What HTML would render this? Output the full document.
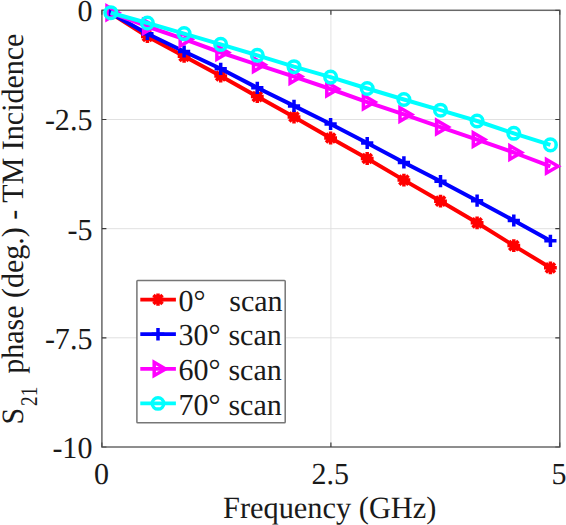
<!DOCTYPE html>
<html><head><meta charset="utf-8"><title>S21 phase - TM Incidence</title>
<style>
html,body{margin:0;padding:0;background:#fff;}
body{width:566px;height:525px;overflow:hidden;font-family:"Liberation Serif",serif;}
svg{display:block;}
text{font-family:"Liberation Serif",serif;fill:#1a1a1a;text-rendering:geometricPrecision;}
</style></head>
<body>
<svg width="566" height="525" viewBox="0 0 566 525">
<rect width="566" height="525" fill="#ffffff"/>
<line x1="101.9" y1="119.5" x2="559.8" y2="119.5" stroke="#dedede" stroke-width="0.9"/>
<line x1="101.9" y1="228.7" x2="559.8" y2="228.7" stroke="#dedede" stroke-width="0.9"/>
<line x1="101.9" y1="337.8" x2="559.8" y2="337.8" stroke="#dedede" stroke-width="0.9"/>
<line x1="330.9" y1="10.3" x2="330.9" y2="447.0" stroke="#dedede" stroke-width="0.9"/>
<rect x="101.9" y="10.3" width="457.9" height="436.7" fill="none" stroke="#686868" stroke-width="1.5"/>
<path d="M101.9 119.5h4.5M559.8 119.5h-4.5" stroke="#3a3a3a" stroke-width="1.2"/>
<path d="M101.9 228.7h4.5M559.8 228.7h-4.5" stroke="#3a3a3a" stroke-width="1.2"/>
<path d="M101.9 337.8h4.5M559.8 337.8h-4.5" stroke="#3a3a3a" stroke-width="1.2"/>
<path d="M330.9 10.3v4.5M330.9 447.0v-4.5" stroke="#3a3a3a" stroke-width="1.2"/>
<path d="M101.9 10.3v4.5M101.9 447.0v-4.5M559.8 10.3v4.5M559.8 447.0v-4.5M101.9 10.3h4.5M559.8 10.3h-4.5M101.9 447.0h4.5M559.8 447.0h-4.5" stroke="#3a3a3a" stroke-width="1.2" opacity="0.75"/>
<polyline points="110.8,13.3 147.4,36.5 184.1,56.3 220.7,76.0 257.3,96.6 294.0,117.0 330.6,138.0 367.2,158.5 403.9,180.1 440.5,201.2 477.1,222.8 513.8,245.6 550.4,267.8" fill="none" stroke="#ff0000" stroke-width="4.0" stroke-linejoin="round"/>
<path d="M104.4 13.3H117.2M110.8 6.9V19.7M106.2 8.7L115.4 17.9M106.2 17.9L115.4 8.7" stroke="#ff0000" stroke-width="3.5" fill="none"/>
<path d="M141.0 36.5H153.8M147.4 30.1V42.9M142.8 31.9L152.0 41.1M142.8 41.1L152.0 31.9" stroke="#ff0000" stroke-width="3.5" fill="none"/>
<path d="M177.7 56.3H190.5M184.1 49.9V62.7M179.5 51.7L188.7 60.9M179.5 60.9L188.7 51.7" stroke="#ff0000" stroke-width="3.5" fill="none"/>
<path d="M214.3 76.0H227.1M220.7 69.6V82.4M216.1 71.4L225.3 80.6M216.1 80.6L225.3 71.4" stroke="#ff0000" stroke-width="3.5" fill="none"/>
<path d="M250.9 96.6H263.7M257.3 90.2V103.0M252.7 92.0L261.9 101.2M252.7 101.2L261.9 92.0" stroke="#ff0000" stroke-width="3.5" fill="none"/>
<path d="M287.6 117.0H300.4M294.0 110.6V123.4M289.4 112.4L298.6 121.6M289.4 121.6L298.6 112.4" stroke="#ff0000" stroke-width="3.5" fill="none"/>
<path d="M324.2 138.0H337.0M330.6 131.6V144.4M326.0 133.4L335.2 142.6M326.0 142.6L335.2 133.4" stroke="#ff0000" stroke-width="3.5" fill="none"/>
<path d="M360.8 158.5H373.6M367.2 152.1V164.9M362.6 153.9L371.8 163.1M362.6 163.1L371.8 153.9" stroke="#ff0000" stroke-width="3.5" fill="none"/>
<path d="M397.5 180.1H410.3M403.9 173.7V186.5M399.3 175.5L408.5 184.7M399.3 184.7L408.5 175.5" stroke="#ff0000" stroke-width="3.5" fill="none"/>
<path d="M434.1 201.2H446.9M440.5 194.8V207.6M435.9 196.6L445.1 205.8M435.9 205.8L445.1 196.6" stroke="#ff0000" stroke-width="3.5" fill="none"/>
<path d="M470.7 222.8H483.5M477.1 216.4V229.2M472.5 218.2L481.7 227.4M472.5 227.4L481.7 218.2" stroke="#ff0000" stroke-width="3.5" fill="none"/>
<path d="M507.4 245.6H520.2M513.8 239.2V252.0M509.2 241.0L518.4 250.2M509.2 250.2L518.4 241.0" stroke="#ff0000" stroke-width="3.5" fill="none"/>
<path d="M544.0 267.8H556.8M550.4 261.4V274.2M545.8 263.2L555.0 272.4M545.8 272.4L555.0 263.2" stroke="#ff0000" stroke-width="3.5" fill="none"/>
<polyline points="110.8,13.2 147.4,33.8 184.1,51.5 220.7,68.8 257.3,87.8 294.0,105.9 330.6,124.0 367.2,143.0 403.9,162.4 440.5,181.2 477.1,200.7 513.8,220.5 550.4,240.8" fill="none" stroke="#0000ff" stroke-width="4.0" stroke-linejoin="round"/>
<path d="M104.7 13.2H116.9M110.8 7.1V19.3" stroke="#0000ff" stroke-width="3.5" fill="none"/>
<path d="M141.3 33.8H153.5M147.4 27.7V39.9" stroke="#0000ff" stroke-width="3.5" fill="none"/>
<path d="M178.0 51.5H190.2M184.1 45.4V57.6" stroke="#0000ff" stroke-width="3.5" fill="none"/>
<path d="M214.6 68.8H226.8M220.7 62.7V74.9" stroke="#0000ff" stroke-width="3.5" fill="none"/>
<path d="M251.2 87.8H263.4M257.3 81.7V93.9" stroke="#0000ff" stroke-width="3.5" fill="none"/>
<path d="M287.9 105.9H300.1M294.0 99.8V112.0" stroke="#0000ff" stroke-width="3.5" fill="none"/>
<path d="M324.5 124.0H336.7M330.6 117.9V130.1" stroke="#0000ff" stroke-width="3.5" fill="none"/>
<path d="M361.1 143.0H373.3M367.2 136.9V149.1" stroke="#0000ff" stroke-width="3.5" fill="none"/>
<path d="M397.8 162.4H410.0M403.9 156.3V168.5" stroke="#0000ff" stroke-width="3.5" fill="none"/>
<path d="M434.4 181.2H446.6M440.5 175.1V187.3" stroke="#0000ff" stroke-width="3.5" fill="none"/>
<path d="M471.0 200.7H483.2M477.1 194.6V206.8" stroke="#0000ff" stroke-width="3.5" fill="none"/>
<path d="M507.7 220.5H519.9M513.8 214.4V226.6" stroke="#0000ff" stroke-width="3.5" fill="none"/>
<path d="M544.3 240.8H556.5M550.4 234.7V246.9" stroke="#0000ff" stroke-width="3.5" fill="none"/>
<polyline points="110.8,12.7 147.4,26.5 184.1,39.2 220.7,52.5 257.3,64.7 294.0,76.6 330.6,89.0 367.2,102.1 403.9,114.4 440.5,127.1 477.1,139.6 513.8,152.5 550.4,166.3" fill="none" stroke="#ff00ff" stroke-width="4.0" stroke-linejoin="round"/>
<path d="M118.5 12.7L107.0 6.0L107.0 19.4Z" stroke="#ff00ff" stroke-width="3.5" fill="none" stroke-linejoin="miter"/>
<path d="M155.1 26.5L143.6 19.8L143.6 33.2Z" stroke="#ff00ff" stroke-width="3.5" fill="none" stroke-linejoin="miter"/>
<path d="M191.8 39.2L180.2 32.5L180.2 45.9Z" stroke="#ff00ff" stroke-width="3.5" fill="none" stroke-linejoin="miter"/>
<path d="M228.4 52.5L216.9 45.8L216.9 59.2Z" stroke="#ff00ff" stroke-width="3.5" fill="none" stroke-linejoin="miter"/>
<path d="M265.0 64.7L253.5 58.0L253.5 71.4Z" stroke="#ff00ff" stroke-width="3.5" fill="none" stroke-linejoin="miter"/>
<path d="M301.7 76.6L290.1 69.9L290.1 83.3Z" stroke="#ff00ff" stroke-width="3.5" fill="none" stroke-linejoin="miter"/>
<path d="M338.3 89.0L326.8 82.3L326.8 95.7Z" stroke="#ff00ff" stroke-width="3.5" fill="none" stroke-linejoin="miter"/>
<path d="M374.9 102.1L363.4 95.4L363.4 108.8Z" stroke="#ff00ff" stroke-width="3.5" fill="none" stroke-linejoin="miter"/>
<path d="M411.6 114.4L400.0 107.7L400.0 121.1Z" stroke="#ff00ff" stroke-width="3.5" fill="none" stroke-linejoin="miter"/>
<path d="M448.2 127.1L436.6 120.4L436.6 133.8Z" stroke="#ff00ff" stroke-width="3.5" fill="none" stroke-linejoin="miter"/>
<path d="M484.8 139.6L473.3 132.9L473.3 146.3Z" stroke="#ff00ff" stroke-width="3.5" fill="none" stroke-linejoin="miter"/>
<path d="M521.5 152.5L509.9 145.8L509.9 159.2Z" stroke="#ff00ff" stroke-width="3.5" fill="none" stroke-linejoin="miter"/>
<path d="M558.1 166.3L546.5 159.6L546.5 173.0Z" stroke="#ff00ff" stroke-width="3.5" fill="none" stroke-linejoin="miter"/>
<polyline points="110.8,12.7 147.4,23.0 184.1,33.6 220.7,44.4 257.3,55.3 294.0,66.7 330.6,77.1 367.2,88.5 403.9,99.5 440.5,110.2 477.1,121.0 513.8,133.3 550.4,144.9" fill="none" stroke="#00ffff" stroke-width="4.0" stroke-linejoin="round"/>
<circle cx="110.8" cy="12.7" r="5.8" stroke="#00ffff" stroke-width="3.5" fill="none"/>
<circle cx="147.4" cy="23.0" r="5.8" stroke="#00ffff" stroke-width="3.5" fill="none"/>
<circle cx="184.1" cy="33.6" r="5.8" stroke="#00ffff" stroke-width="3.5" fill="none"/>
<circle cx="220.7" cy="44.4" r="5.8" stroke="#00ffff" stroke-width="3.5" fill="none"/>
<circle cx="257.3" cy="55.3" r="5.8" stroke="#00ffff" stroke-width="3.5" fill="none"/>
<circle cx="294.0" cy="66.7" r="5.8" stroke="#00ffff" stroke-width="3.5" fill="none"/>
<circle cx="330.6" cy="77.1" r="5.8" stroke="#00ffff" stroke-width="3.5" fill="none"/>
<circle cx="367.2" cy="88.5" r="5.8" stroke="#00ffff" stroke-width="3.5" fill="none"/>
<circle cx="403.9" cy="99.5" r="5.8" stroke="#00ffff" stroke-width="3.5" fill="none"/>
<circle cx="440.5" cy="110.2" r="5.8" stroke="#00ffff" stroke-width="3.5" fill="none"/>
<circle cx="477.1" cy="121.0" r="5.8" stroke="#00ffff" stroke-width="3.5" fill="none"/>
<circle cx="513.8" cy="133.3" r="5.8" stroke="#00ffff" stroke-width="3.5" fill="none"/>
<circle cx="550.4" cy="144.9" r="5.8" stroke="#00ffff" stroke-width="3.5" fill="none"/>
<rect x="136.9" y="280.5" width="148.3" height="142.3" fill="#fff" stroke="#767676" stroke-width="1.5" rx="0.8"/>
<line x1="140.3" y1="299.6" x2="175.9" y2="299.6" stroke="#ff0000" stroke-width="3.8"/>
<path d="M151.8 299.6H164.2M158.0 293.4V305.8M153.5 295.1L162.5 304.1M153.5 304.1L162.5 295.1" stroke="#ff0000" stroke-width="3.5" fill="none"/>
<line x1="140.3" y1="334.2" x2="175.9" y2="334.2" stroke="#0000ff" stroke-width="3.8"/>
<path d="M151.7 334.2H164.3M158.0 327.9V340.5" stroke="#0000ff" stroke-width="3.5" fill="none"/>
<line x1="140.3" y1="368.9" x2="175.9" y2="368.9" stroke="#ff00ff" stroke-width="3.8"/>
<path d="M165.6 368.9L154.2 362.3L154.2 375.5Z" stroke="#ff00ff" stroke-width="3.5" fill="none" stroke-linejoin="miter"/>
<line x1="140.3" y1="403.4" x2="175.9" y2="403.4" stroke="#00ffff" stroke-width="3.8"/>
<circle cx="158.0" cy="403.4" r="5.7" stroke="#00ffff" stroke-width="3.5" fill="none"/>
<text transform="translate(178.50,310.70) scale(0.984,1)" font-size="30.5" text-anchor="start">0°</text>
<text transform="translate(229.20,310.70) scale(0.984,1)" font-size="30.5" text-anchor="start">scan</text>
<text transform="translate(178.50,345.00) scale(0.984,1)" font-size="30.5" text-anchor="start">30°</text>
<text transform="translate(228.40,345.00) scale(0.984,1)" font-size="30.5" text-anchor="start">scan</text>
<text transform="translate(178.50,379.70) scale(0.984,1)" font-size="30.5" text-anchor="start">60°</text>
<text transform="translate(228.40,379.70) scale(0.984,1)" font-size="30.5" text-anchor="start">scan</text>
<text transform="translate(178.50,415.00) scale(0.984,1)" font-size="30.5" text-anchor="start">70°</text>
<text transform="translate(228.40,415.00) scale(0.984,1)" font-size="30.5" text-anchor="start">scan</text>
<text transform="translate(92.40,21.30) scale(0.984,1)" font-size="30.5" text-anchor="end">0</text>
<text transform="translate(92.40,130.47) scale(0.984,1)" font-size="30.5" text-anchor="end">-2.5</text>
<text transform="translate(92.40,239.65) scale(0.984,1)" font-size="30.5" text-anchor="end">-5</text>
<text transform="translate(92.40,348.82) scale(0.984,1)" font-size="30.5" text-anchor="end">-7.5</text>
<text transform="translate(92.40,458.00) scale(0.984,1)" font-size="30.5" text-anchor="end">-10</text>
<text transform="translate(101.60,483.50) scale(0.984,1)" font-size="30.5" text-anchor="middle">0</text>
<text transform="translate(330.25,483.50) scale(0.984,1)" font-size="30.5" text-anchor="middle">2.5</text>
<text transform="translate(558.90,483.50) scale(0.984,1)" font-size="30.5" text-anchor="middle">5</text>
<text transform="translate(329.70,518.30) scale(0.98,1)" font-size="31" text-anchor="middle">Frequency (GHz)</text>
<g transform="translate(23.3,424.5) rotate(-90)"><text transform="scale(0.968,1)" x="0" y="0" font-size="31">S</text><text transform="translate(18.6,13.8) scale(0.80,1)" x="0" y="0" font-size="24">21</text><text transform="translate(50.7,0) scale(0.968,1)" x="0" y="0" font-size="31">phase (deg.) - TM Incidence</text></g>
</svg>
</body></html>
